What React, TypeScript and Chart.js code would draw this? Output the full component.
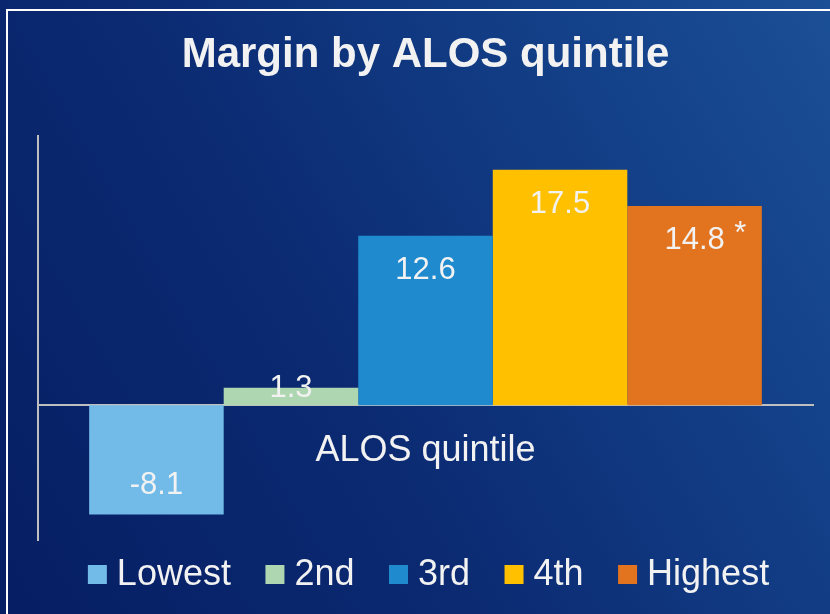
import React, { useEffect, useRef } from "react";
import { Chart, registerables } from "chart.js";

Chart.register(...registerables);

const title = "Margin by ALOS quintile";
const axisLabel = "ALOS quintile";
const quintiles = ["Lowest", "2nd", "3rd", "4th", "Highest"];
const margins = [-8.1, 1.3, 12.6, 17.5, 14.8];
const markers = ["", "", "", "", "*"];
const colors = ["#72BBE9", "#AED6B0", "#208ACE", "#FFC000", "#E2731F"];

const FONT = "'Liberation Sans', Arial, sans-serif";
const TEXT = "#F2F2F2";
const AXIS = "#BFBFBF";

const valueLabels = {
  id: "valueLabels",
  afterDatasetsDraw(chart: any) {
    const ctx = chart.ctx;
    ctx.save();
    ctx.fillStyle = TEXT;
    ctx.textBaseline = "alphabetic";
    chart.data.datasets.forEach((ds: any, i: number) => {
      const meta = chart.getDatasetMeta(i);
      const bar = meta.data[0];
      if (!bar) return;
      const { x, y, base } = bar.getProps(["x", "y", "base"], true);
      const v = ds.data[0];
      const txt = v.toFixed(1);
      let baseline: number;
      if (v >= 0) baseline = Math.min(y + 43, base - 8.5);
      else baseline = y - 20;
      ctx.font = `31px ${FONT}`;
      ctx.textAlign = "center";
      ctx.fillText(txt, x, baseline);
      const mk = markers[i];
      if (mk) {
        const w = ctx.measureText(txt).width;
        ctx.textAlign = "left";
        ctx.fillText(mk, x + w / 2 + 9.5, baseline - 6);
      }
    });
    ctx.restore();
  },
};

const customLegend = {
  id: "customLegend",
  afterDraw(chart: any) {
    const ctx = chart.ctx;
    const area = chart.chartArea;
    ctx.save();
    ctx.font = `36px ${FONT}`;
    ctx.textBaseline = "alphabetic";
    ctx.textAlign = "left";
    const box = 19;
    const textGap = 10;
    const itemGap = 34.5;
    const items = chart.data.datasets.map((ds: any) => ({
      label: ds.label,
      color: ds.backgroundColor,
      w: ctx.measureText(ds.label).width,
    }));
    const total =
      items.reduce((s: number, it: any) => s + box + textGap + it.w, 0) +
      itemGap * (items.length - 1);
    let x = (area.left + area.right) / 2 + 3 - total / 2;
    const baseline = area.bottom + 45;
    items.forEach((it: any) => {
      ctx.fillStyle = it.color;
      ctx.fillRect(x, baseline - 20, box, box);
      x += box + textGap;
      ctx.fillStyle = TEXT;
      ctx.fillText(it.label, x, baseline);
      x += it.w + itemGap;
    });
    ctx.restore();
  },
};

export default function App() {
  const ref = useRef<HTMLCanvasElement>(null);

  useEffect(() => {
    if (!ref.current) return;
    const chart = new Chart(ref.current, {
      type: "bar",
      data: {
        labels: [axisLabel],
        datasets: quintiles.map((q, i) => ({
          label: q,
          data: [margins[i]],
          backgroundColor: colors[i],
          borderWidth: 0,
          categoryPercentage: 0.868,
          barPercentage: 1,
        })),
      },
      options: {
        responsive: false,
        animation: false,
        layout: { padding: { top: 0, left: 38, right: 17, bottom: 74 } },
        plugins: {
          legend: { display: false },
          tooltip: { enabled: false },
          title: {
            display: true,
            text: title,
            color: TEXT,
            font: { family: FONT, size: 42, weight: "bold", lineHeight: 1.2 },
            padding: { top: 30, bottom: 55.6 },
          },
        },
        scales: {
          x: {
            type: "category",
            position: { y: 0 } as any,
            grid: { display: false, drawTicks: false },
            border: { display: true, color: AXIS, width: 2 },
            ticks: { color: TEXT, font: { family: FONT, size: 36 }, padding: 24 },
          },
          y: {
            min: -10,
            max: 20,
            grid: { display: false, drawTicks: false },
            border: { display: true, color: AXIS, width: 2 },
            ticks: { display: false },
          },
        },
      },
      plugins: [valueLabels, customLegend],
    });
    return () => chart.destroy();
  }, []);

  return (
    <div
      style={{
        position: "fixed",
        left: 0,
        top: 0,
        width: 830,
        height: 614,
        overflow: "hidden",
        background:
          "linear-gradient(60deg, #061E63 0%, #0B2A72 40%, #134088 75%, #1B4F96 100%)",
      }}
    >
      <div style={{ position: "absolute", left: 6, top: 9, right: 0, height: 2, background: "#FFFFFF" }} />
      <div style={{ position: "absolute", left: 6, top: 9, bottom: 0, width: 2, background: "#FFFFFF" }} />
      <canvas ref={ref} width={830} height={614} style={{ position: "absolute", left: 0, top: 0 }} />
    </div>
  );
}
